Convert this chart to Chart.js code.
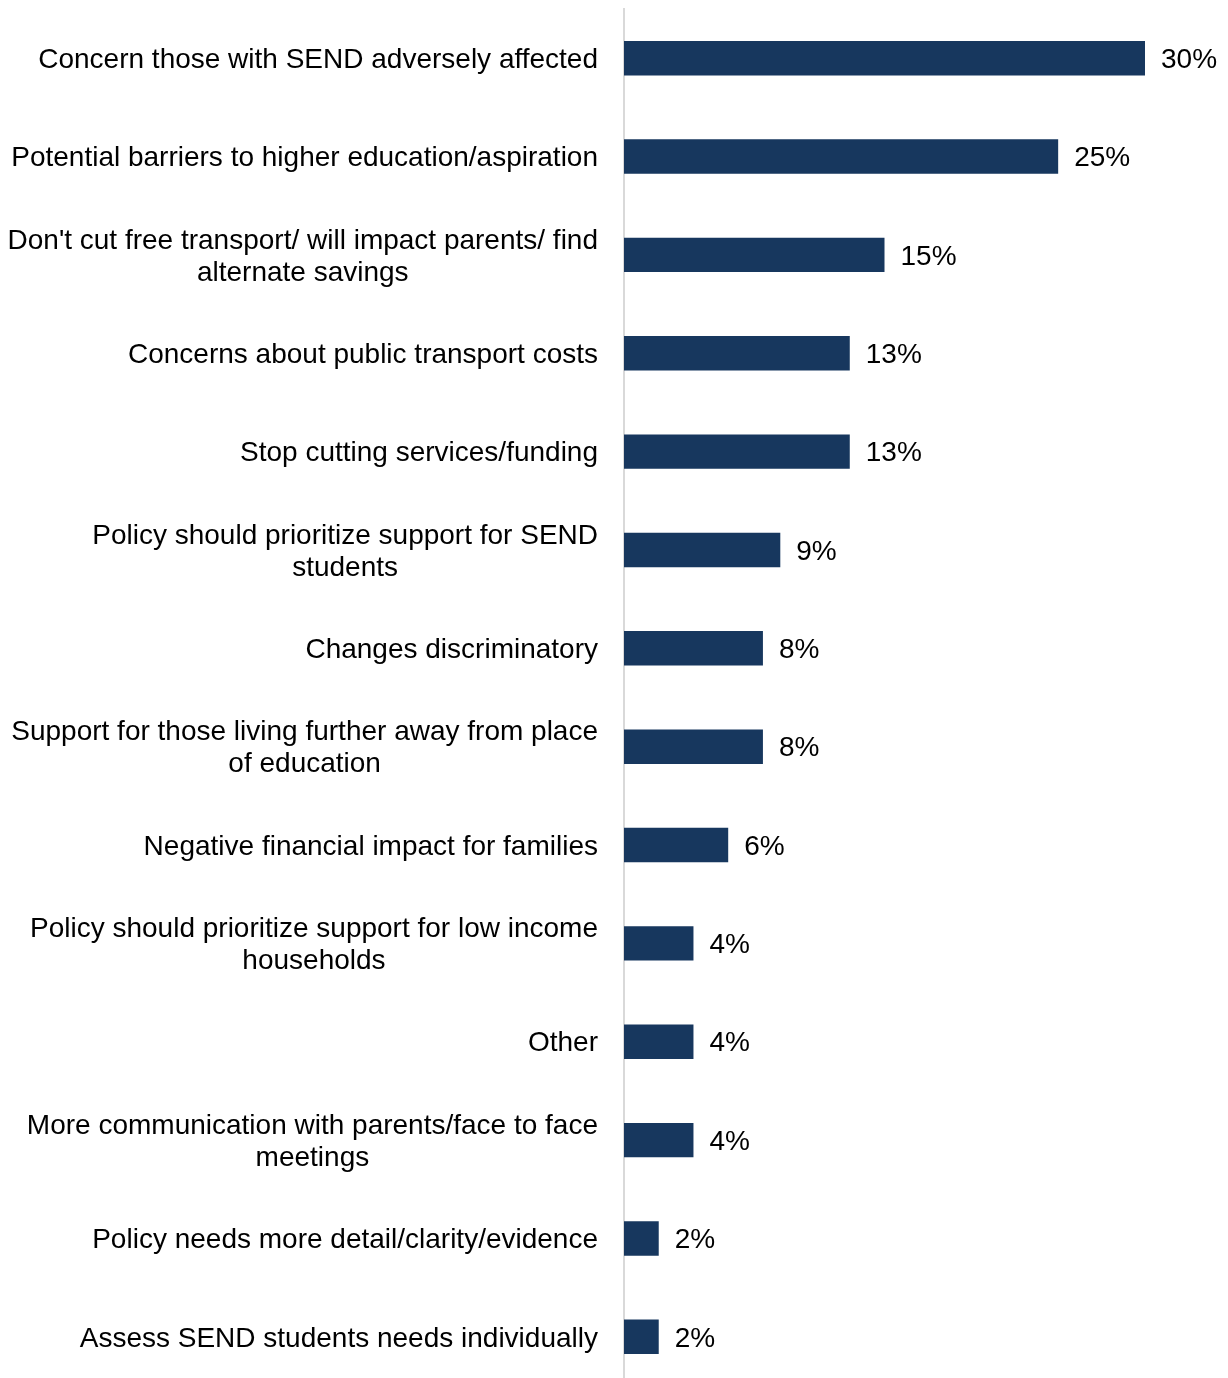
<!DOCTYPE html>
<html>
<head>
<meta charset="utf-8">
<script src="https://cdn.jsdelivr.net/npm/chart.js@4"></script>
<style>
  html, body { margin: 0; padding: 0; background: #fff; overflow: hidden; }
  #wrap { width: 1228px; height: 1386px; }
</style>
</head>
<body>
<div id="wrap"><canvas id="myChart"></canvas></div>
<script>
const categories = [
    ['Concern those with SEND adversely affected'],
    ['Potential barriers to higher education/aspiration'],
    ["Don't cut free transport/ will impact parents/ find", 'alternate savings'],
    ['Concerns about public transport costs'],
    ['Stop cutting services/funding'],
    ['Policy should prioritize support for SEND', 'students'],
    ['Changes discriminatory'],
    ['Support for those living further away from place', 'of education'],
    ['Negative financial impact for families'],
    ['Policy should prioritize support for low income', 'households'],
    ['Other'],
    ['More communication with parents/face to face', 'meetings'],
    ['Policy needs more detail/clarity/evidence'],
    ['Assess SEND students needs individually']
];
const percentages = [30, 25, 15, 13, 13, 9, 8, 8, 6, 4, 4, 4, 2, 2];

const FONT = '"Liberation Sans", Arial, sans-serif';

// category labels: block right-aligned, lines centred within the block
const labelPlugin = {
    id: 'labelPlugin',
    afterDraw(chart) {
        const ctx = chart.ctx;
        const yScale = chart.scales.y;
        const xScale = chart.scales.x;
        ctx.save();
        ctx.font = '28px ' + FONT;
        ctx.fillStyle = '#000';
        ctx.textBaseline = 'middle';
        const lineH = 32;
        const rightEdge = chart.chartArea.left - 26;

        categories.forEach((lines, i) => {
            const y = yScale.getPixelForTick(i) + 2;
            const widest = Math.max(...lines.map(l => ctx.measureText(l).width));
            const cx = rightEdge - widest / 2;
            ctx.textAlign = 'center';
            lines.forEach((line, j) => {
                const ly = y + (j - (lines.length - 1) / 2) * lineH;
                ctx.fillText(line, cx, ly);
            });
        });

        // value labels
        ctx.textAlign = 'left';
        percentages.forEach((v, i) => {
            const x = xScale.getPixelForValue(v) + 16;
            const y = yScale.getPixelForTick(i) + 2;
            ctx.fillText(v + '%', x, y);
        });
        ctx.restore();
    }
};

const canvas = document.getElementById('myChart');
new Chart(canvas, {
    type: 'bar',
    data: {
        labels: categories,
        datasets: [{
            data: percentages,
            backgroundColor: '#17375e',
            borderWidth: 0,
            categoryPercentage: 1,
            barPercentage: 0.35
        }]
    },
    options: {
        indexAxis: 'y',
        responsive: true,
        maintainAspectRatio: false,
        animation: false,
        layout: {
            padding: { left: 616, right: 83, top: 9, bottom: 0 }
        },
        plugins: {
            legend: { display: false },
            tooltip: { enabled: false }
        },
        scales: {
            x: {
                display: false,
                min: 0,
                max: 30
            },
            y: {
                grid: { display: false },
                border: { display: true, color: '#d9d9d9', width: 2 },
                ticks: { display: false }
            }
        }
    },
    plugins: [labelPlugin]
});
</script>
</body>
</html>
